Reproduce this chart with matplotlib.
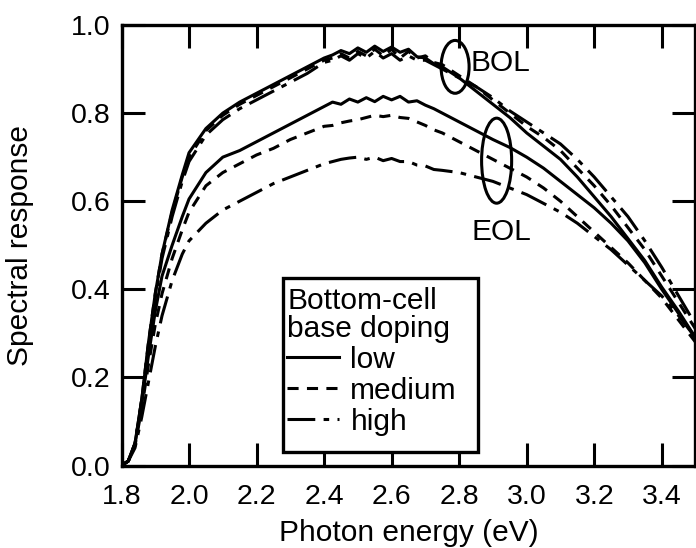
import matplotlib.pyplot as plt
from matplotlib.lines import Line2D
from matplotlib.patches import Ellipse, Rectangle

plt.rcParams["font.family"] = ["Liberation Sans", "DejaVu Sans"]
plt.rcParams["lines.scale_dashes"] = False

# photon energy grid (eV)
energy = [1.80, 1.82, 1.84, 1.86, 1.88, 1.90, 1.92, 1.95, 1.98, 2.00,
          2.05, 2.10, 2.15, 2.20, 2.25, 2.30, 2.35, 2.40,
          2.425, 2.45, 2.475, 2.50, 2.525, 2.55, 2.575, 2.60, 2.625, 2.65, 2.675, 2.70, 2.725, 2.75,
          2.80, 2.85, 2.90, 2.95, 3.00,
          3.05, 3.10, 3.15, 3.20, 3.25, 3.30, 3.35, 3.40, 3.45, 3.50]

# beginning of life
bol_low = [0.00, 0.01, 0.05, 0.15, 0.28, 0.39, 0.48, 0.58, 0.66, 0.71,
           0.765, 0.80, 0.825, 0.845, 0.865, 0.885, 0.905, 0.925,
           0.932, 0.942, 0.935, 0.948, 0.938, 0.952, 0.94, 0.95, 0.938, 0.945, 0.928, 0.925, 0.912, 0.905,
           0.88, 0.85, 0.82, 0.79, 0.755,
           0.725, 0.695, 0.655, 0.61, 0.565, 0.515, 0.465, 0.405, 0.35, 0.29]
bol_medium = [0.00, 0.01, 0.05, 0.15, 0.28, 0.39, 0.48, 0.575, 0.655, 0.70,
              0.76, 0.795, 0.82, 0.84, 0.86, 0.88, 0.90, 0.92,
              0.925, 0.935, 0.925, 0.94, 0.93, 0.945, 0.93, 0.945, 0.925, 0.94, 0.925, 0.93, 0.915, 0.91,
              0.885, 0.86, 0.83, 0.80, 0.77,
              0.745, 0.715, 0.675, 0.635, 0.59, 0.54, 0.49, 0.43, 0.37, 0.31]
bol_high = [0.00, 0.01, 0.05, 0.15, 0.27, 0.38, 0.47, 0.565, 0.645, 0.69,
            0.75, 0.785, 0.81, 0.83, 0.85, 0.87, 0.89, 0.915,
            0.92, 0.93, 0.92, 0.935, 0.925, 0.94, 0.925, 0.935, 0.92, 0.93, 0.92, 0.92, 0.91, 0.90,
            0.88, 0.86, 0.835, 0.805, 0.78,
            0.755, 0.73, 0.695, 0.655, 0.61, 0.565, 0.51, 0.45, 0.385, 0.32]

# end of life
eol_low = [0.00, 0.01, 0.05, 0.14, 0.25, 0.35, 0.43, 0.50, 0.565, 0.605,
           0.665, 0.70, 0.715, 0.735, 0.755, 0.775, 0.795, 0.815,
           0.825, 0.82, 0.832, 0.825, 0.835, 0.826, 0.838, 0.83, 0.838, 0.825, 0.828, 0.818, 0.81, 0.80,
           0.78, 0.76, 0.74, 0.722, 0.70,
           0.675, 0.645, 0.615, 0.585, 0.55, 0.51, 0.46, 0.40, 0.345, 0.29]
eol_medium = [0.00, 0.01, 0.045, 0.13, 0.23, 0.32, 0.39, 0.47, 0.535, 0.575,
              0.635, 0.665, 0.685, 0.705, 0.72, 0.74, 0.755, 0.77,
              0.772, 0.778, 0.782, 0.785, 0.79, 0.795, 0.792, 0.795, 0.79, 0.788, 0.78, 0.772, 0.762, 0.755,
              0.735, 0.715, 0.695, 0.675, 0.655,
              0.63, 0.60, 0.565, 0.53, 0.495, 0.46, 0.42, 0.38, 0.33, 0.28]
eol_high = [0.00, 0.01, 0.04, 0.11, 0.19, 0.27, 0.34, 0.42, 0.48, 0.51,
            0.55, 0.58, 0.60, 0.62, 0.64, 0.655, 0.67, 0.685,
            0.69, 0.695, 0.698, 0.70, 0.695, 0.70, 0.692, 0.697, 0.69, 0.69, 0.682, 0.68, 0.672, 0.67,
            0.665, 0.655, 0.645, 0.63, 0.615,
            0.595, 0.575, 0.55, 0.52, 0.49, 0.455, 0.42, 0.385, 0.34, 0.29]

doping_labels = ["low", "medium", "high"]
x_ticks = [1.8, 2.0, 2.2, 2.4, 2.6, 2.8, 3.0, 3.2, 3.4]
y_ticks = [0.0, 0.2, 0.4, 0.6, 0.8, 1.0]

styles = {
    "low": dict(linestyle="-"),
    "medium": dict(linestyle=(0, (8, 6))),
    "high": dict(linestyle=(0, (20, 6, 4, 6))),
}

fs = 21.5
fig = plt.figure(figsize=(6.96, 5.48), dpi=100)
ax = fig.add_axes([121.5 / 696, 82.5 / 548, 574 / 696, 440.5 / 548])

lw = 2.2
for series, key in [(bol_low, "low"), (bol_medium, "medium"), (bol_high, "high"),
                    (eol_low, "low"), (eol_medium, "medium"), (eol_high, "high")]:
    ax.plot(energy, series, color="black", lw=lw, **styles[key])

ax.add_patch(Ellipse((2.788, 0.905), 0.083, 0.12, fill=False, lw=2.2, ec="black"))
ax.add_patch(Ellipse((2.911, 0.692), 0.089, 0.193, fill=False, lw=2.2, ec="black"))
ax.text(2.921, 0.914, "BOL", fontsize=fs, ha="center", va="center")
ax.text(2.924, 0.53, "EOL", fontsize=fs, ha="center", va="center")

# legend box drawn by hand (with a slight shadow like the original)
ax.add_patch(Rectangle((0.2849, 0.0261), 0.3397, 0.3951, transform=ax.transAxes,
                       fc="black", ec="black", lw=0, zorder=4))
ax.add_patch(Rectangle((0.2814, 0.0306), 0.3397, 0.3951, transform=ax.transAxes,
                       fc="white", ec="black", lw=2.4, zorder=4.1))

handles = [Line2D([], [], color="black", lw=lw, **styles[k]) for k in doping_labels]
leg = ax.legend(handles, doping_labels, title="Bottom-cell\nbase doping",
                loc="upper left", bbox_to_anchor=(0.2885, 0.406), borderaxespad=0,
                fontsize=fs, title_fontsize=fs, alignment="left",
                handlelength=1.75, handletextpad=0.37, borderpad=0,
                labelspacing=0.1, frameon=False)
leg.get_title().set_linespacing(1.0)
leg.set_zorder(5)

ax.set_xlim(1.8, 3.5)
ax.set_ylim(0.0, 1.0)
ax.set_xticks(x_ticks)
ax.set_yticks(y_ticks)
ax.set_xticklabels([f"{t:.1f}" for t in x_ticks])
ax.set_yticklabels([f"{t:.1f}" for t in y_ticks])
ax.tick_params(direction="in", length=16.5, width=2.2, top=True, right=True,
               labelsize=20.5)
ax.tick_params(axis="x", pad=13)
ax.tick_params(axis="y", pad=8)
for sp in ax.spines.values():
    sp.set_linewidth(2.4)

ax.set_xlabel("Photon energy (eV)", fontsize=fs)
ax.set_ylabel("Spectral response", fontsize=fs)
ax.xaxis.set_label_coords(0.5, -0.121)
ax.yaxis.set_label_coords(-0.152, 0.5)

fig.savefig("out.png", dpi=100)
